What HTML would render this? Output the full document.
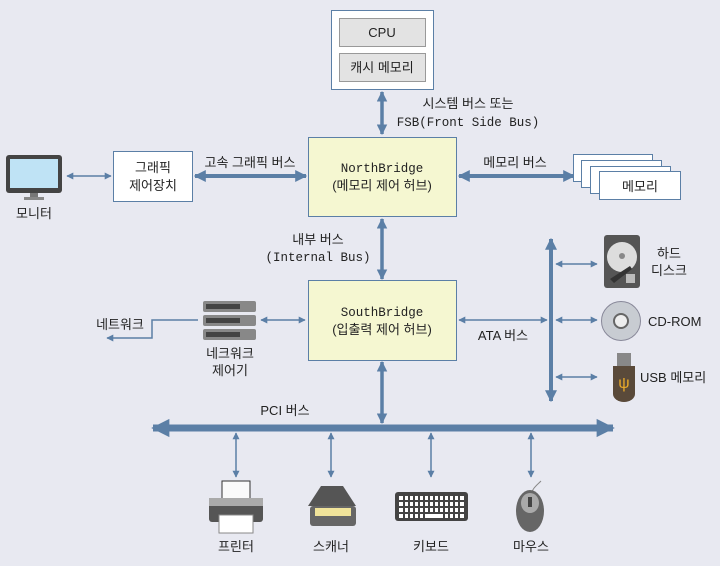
<!DOCTYPE html>
<html><head><meta charset="utf-8"><style>
html,body{margin:0;padding:0;background:#e8e9f1;}
svg{display:block}
text{font-family:"Liberation Sans","Noto Sans CJK KR",sans-serif;font-size:13px;fill:#222}
.m{font-family:"Liberation Mono","Noto Sans CJK KR",monospace;font-size:12.5px}
</style></head><body>
<svg width="720" height="566" viewBox="0 0 720 566" xmlns="http://www.w3.org/2000/svg">
<defs>
<marker id="a" viewBox="0 0 10 10" refX="9" refY="5" markerWidth="7" markerHeight="7" markerUnits="userSpaceOnUse" orient="auto-start-reverse"><path d="M0,0 L10,5 L0,10 z" fill="#5b7fa6"/></marker>
<marker id="b" viewBox="0 0 10 10" refX="9" refY="5" markerWidth="3" markerHeight="3" orient="auto-start-reverse"><path d="M0,0 L10,5 L0,10 z" fill="#5b7fa6"/></marker>
<marker id="c" viewBox="0 0 10 10" refX="9" refY="5" markerWidth="2.6" markerHeight="2.8" orient="auto-start-reverse"><path d="M0,0 L10,5 L0,10 z" fill="#5b7fa6"/></marker>
</defs>
<rect width="720" height="566" fill="#e8e9f1"/>
<g stroke="#5b7fa6" fill="none">
<line x1="382" y1="92" x2="382" y2="134" stroke-width="3.5" marker-start="url(#b)" marker-end="url(#b)"/>
<line x1="195" y1="176" x2="306" y2="176" stroke-width="4" marker-start="url(#b)" marker-end="url(#b)"/>
<line x1="459" y1="176" x2="574" y2="176" stroke-width="4" marker-start="url(#b)" marker-end="url(#b)"/>
<line x1="382" y1="219" x2="382" y2="279" stroke-width="3.5" marker-start="url(#b)" marker-end="url(#b)"/>
<line x1="382" y1="362" x2="382" y2="423" stroke-width="3.5" marker-start="url(#b)" marker-end="url(#b)"/>
<line x1="551" y1="239" x2="551" y2="401" stroke-width="4" marker-start="url(#b)" marker-end="url(#b)"/>
<line x1="153" y1="428" x2="613" y2="428" stroke-width="7" marker-start="url(#c)" marker-end="url(#c)"/>
<g stroke-width="1.5">
<line x1="67" y1="176" x2="111" y2="176" marker-start="url(#a)" marker-end="url(#a)"/>
<line x1="261" y1="320" x2="305" y2="320" marker-start="url(#a)" marker-end="url(#a)"/>
<line x1="459" y1="320" x2="547" y2="320" marker-start="url(#a)" marker-end="url(#a)"/>
<line x1="556" y1="264" x2="597" y2="264" marker-start="url(#a)" marker-end="url(#a)"/>
<line x1="556" y1="320" x2="597" y2="320" marker-start="url(#a)" marker-end="url(#a)"/>
<line x1="556" y1="377" x2="597" y2="377" marker-start="url(#a)" marker-end="url(#a)"/>
<polyline points="198,320 152,320 152,338 107,338" marker-end="url(#a)"/>
<line x1="236" y1="433" x2="236" y2="477" marker-start="url(#a)" marker-end="url(#a)"/>
<line x1="331" y1="433" x2="331" y2="477" marker-start="url(#a)" marker-end="url(#a)"/>
<line x1="431" y1="433" x2="431" y2="477" marker-start="url(#a)" marker-end="url(#a)"/>
<line x1="531" y1="433" x2="531" y2="477" marker-start="url(#a)" marker-end="url(#a)"/>
</g>
</g>
<!-- CPU -->
<rect x="331.5" y="10.5" width="102" height="79" fill="#fff" stroke="#5b7fa6"/>
<rect x="339.5" y="18.5" width="86" height="28" fill="#e3e3e3" stroke="#999"/>
<rect x="339.5" y="53.5" width="86" height="28" fill="#e3e3e3" stroke="#999"/>
<text x="382" y="37" text-anchor="middle">CPU</text>
<text x="382" y="72" text-anchor="middle">캐시 메모리</text>
<text x="468" y="108" text-anchor="middle">시스템 버스 또는</text>
<text x="468" y="126" text-anchor="middle" class="m">FSB(Front Side Bus)</text>
<!-- North -->
<rect x="308.5" y="137.5" width="148" height="79" fill="#f5f7d1" stroke="#5b7fa6"/>
<text x="382" y="172" text-anchor="middle" class="m">NorthBridge</text>
<text x="382" y="190" text-anchor="middle">(메모리 제어 허브)</text>
<rect x="113.5" y="151.5" width="79" height="50" fill="#fff" stroke="#5b7fa6"/>
<text x="153" y="172" text-anchor="middle">그래픽</text>
<text x="153" y="190" text-anchor="middle">제어장치</text>
<text x="250" y="167" text-anchor="middle">고속 그래픽 버스</text>
<rect x="6" y="155" width="56" height="38" rx="3" fill="#444"/>
<rect x="10" y="159" width="48" height="29" fill="#bfe3f5"/>
<rect x="30" y="193" width="8" height="5" fill="#777"/><rect x="24" y="197" width="20" height="3" fill="#888"/>
<text x="34" y="218" text-anchor="middle">모니터</text>
<text x="515" y="167" text-anchor="middle">메모리 버스</text>
<rect x="573.5" y="154.5" width="79" height="27" fill="#fff" stroke="#5b7fa6"/>
<rect x="581.5" y="160.5" width="80" height="27" fill="#fff" stroke="#5b7fa6"/>
<rect x="590.5" y="166.5" width="80" height="27" fill="#fff" stroke="#5b7fa6"/>
<rect x="599.5" y="171.5" width="81" height="28" fill="#fff" stroke="#5b7fa6"/>
<text x="640" y="191" text-anchor="middle">메모리</text>
<text x="318" y="244" text-anchor="middle">내부 버스</text>
<text x="318" y="261" text-anchor="middle" class="m">(Internal Bus)</text>
<rect x="308.5" y="280.5" width="148" height="80" fill="#f5f7d1" stroke="#5b7fa6"/>
<text x="382" y="316" text-anchor="middle" class="m">SouthBridge</text>
<text x="382" y="334" text-anchor="middle">(입출력 제어 허브)</text>
<text x="503" y="340" text-anchor="middle">ATA 버스</text>
<g fill="#888"><rect x="203" y="301" width="53" height="11" rx="2"/><rect x="203" y="315" width="53" height="11" rx="2"/><rect x="203" y="329" width="53" height="11" rx="2"/></g>
<g fill="#444"><rect x="206" y="304" width="34" height="5"/><rect x="206" y="318" width="34" height="5"/><rect x="206" y="332" width="34" height="5"/></g>
<text x="230" y="358" text-anchor="middle">네크워크</text>
<text x="230" y="375" text-anchor="middle">제어기</text>
<text x="120" y="329" text-anchor="middle">네트워크</text>
<rect x="604" y="235" width="36" height="53" rx="3" fill="#555"/>
<circle cx="622" cy="257" r="15" fill="#ddd"/><circle cx="622" cy="256" r="3" fill="#888"/>
<polygon points="610,279 630,266 632,269 614,283" fill="#333"/>
<rect x="626" y="274" width="9" height="9" fill="#bbb"/>
<text x="669" y="258" text-anchor="middle">하드</text>
<text x="669" y="275" text-anchor="middle">디스크</text>
<circle cx="621" cy="321" r="19.5" fill="#c8ccd2" stroke="#889"/>
<circle cx="621" cy="321" r="7" fill="#eee" stroke="#666" stroke-width="2"/>
<text x="648" y="326">CD-ROM</text>
<rect x="617" y="353" width="14" height="14" fill="#888"/>
<path d="M613,366 h22 v28 a11,8 0 0 1 -22,0 z" fill="#5a4a3a"/>
<text x="624" y="388" text-anchor="middle" style="fill:#e8a92a;font-size:16px">ψ</text>
<text x="640" y="382">USB 메모리</text>
<text x="285" y="415" text-anchor="middle">PCI 버스</text>
<rect x="222" y="481" width="28" height="20" fill="#fafafa" stroke="#333"/>
<rect x="209" y="498" width="54" height="24" rx="3" fill="#555"/>
<rect x="209" y="498" width="54" height="8" fill="#aaa"/>
<rect x="219" y="515" width="34" height="18" fill="#fff" stroke="#888"/>
<text x="236" y="551" text-anchor="middle">프린터</text>
<polygon points="321,486 343,486 356,506 308,506" fill="#555"/>
<rect x="310" y="506" width="46" height="20" rx="3" fill="#666"/>
<rect x="315" y="508" width="36" height="8" fill="#f0e39a"/>
<text x="331" y="551" text-anchor="middle">스캐너</text>
<rect x="395" y="492" width="73" height="29" rx="3" fill="#444"/>
<g fill="#fff"><rect x="399" y="496" width="65" height="4"/><rect x="399" y="502" width="65" height="4"/><rect x="399" y="508" width="65" height="4"/><rect x="399" y="514" width="65" height="4"/></g>
<g stroke="#444" stroke-width="2"><path d="M404,495 v24 M409,495 v24 M414,495 v24 M419,495 v24 M424,495 v24 M444,495 v24 M449,495 v24 M454,495 v24 M459,495 v24 M429,495 v18 M434,495 v18 M439,495 v18"/></g>
<text x="431" y="551" text-anchor="middle">키보드</text>
<path d="M531,497 c0,-8 6,-12 10,-16" stroke="#888" fill="none"/>
<ellipse cx="530" cy="511" rx="14" ry="21" fill="#666"/>
<ellipse cx="530" cy="503" rx="9" ry="10" fill="#aaa"/>
<rect x="528" y="497" width="4" height="10" fill="#444"/>
<text x="531" y="551" text-anchor="middle">마우스</text>
</svg>
</body></html>
